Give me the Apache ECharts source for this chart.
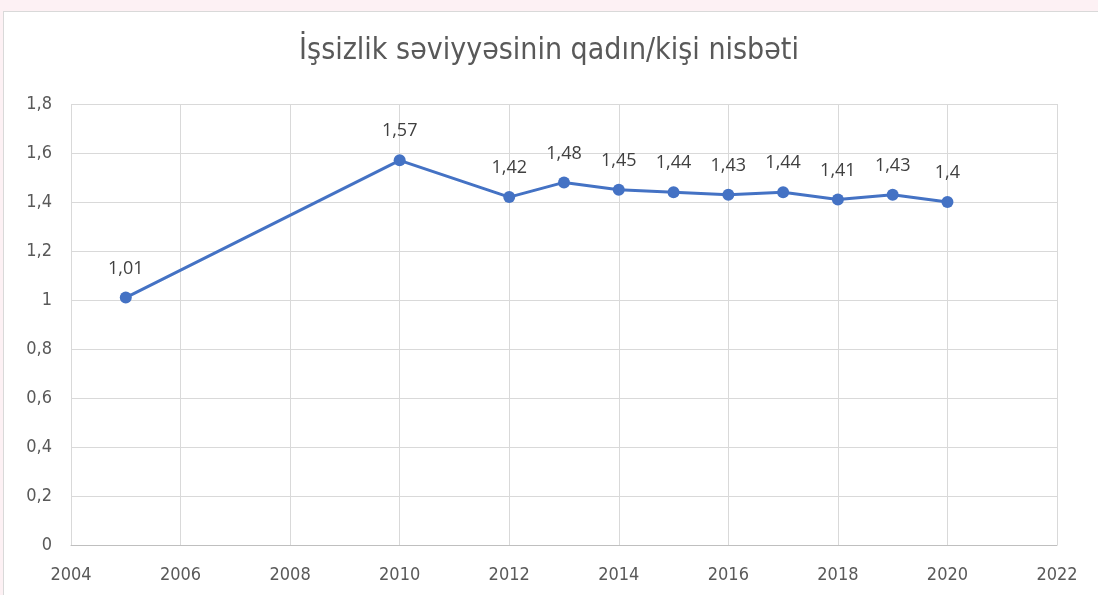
<!DOCTYPE html>
<html>
<head>
<meta charset="utf-8">
<script src="https://cdn.jsdelivr.net/npm/echarts@6/dist/echarts.min.js"></script>
<style>
  html, body { margin: 0; padding: 0; background: #fdf1f4; }
  #frame { position: absolute; left: 3px; top: 11px; width: 1100px; height: 600px;
           background: #fff; border: 1px solid #d9d9d9; box-sizing: border-box; }
  #chart { position: absolute; left: 0; top: 0; width: 1098px; height: 595px; }
</style>
</head>
<body>
<div id="frame"></div>
<div id="chart"></div>
<script>
// İşsizlik səviyyəsinin qadın/kişi nisbəti
var years = [2005, 2010, 2012, 2013, 2014, 2015, 2016, 2017, 2018, 2019, 2020]
var ratio = [1.01, 1.57, 1.42, 1.48, 1.45, 1.44, 1.43, 1.44, 1.41, 1.43, 1.4]
var chartTitle = 'İşsizlik səviyyəsinin qadın/kişi nisbəti'

var narrow = "'Liberation Sans Narrow', 'DejaVu Sans Condensed', 'Liberation Sans', sans-serif"

function comma(v) {
  return String(+v.toFixed(2)).replace('.', ',')
}

var points = []
for (var i = 0; i < years.length; i++) {
  points.push([years[i], ratio[i]])
}

var chart = echarts.init(document.getElementById('chart'))
chart.setOption({
  animation: false,
  title: {
    text: chartTitle,
    left: 'center',
    top: 31,
    textStyle: { color: '#595959', fontSize: 30, fontWeight: 'normal', fontFamily: narrow }
  },
  grid: { left: 71, right: 41, top: 104, bottom: 50 },
  xAxis: {
    type: 'value',
    min: 2004, max: 2022, interval: 2,
    axisLine: { lineStyle: { color: '#bfbfbf' } },
    axisTick: { show: false },
    splitLine: { show: true, lineStyle: { color: '#d9d9d9' } },
    axisLabel: { color: '#595959', fontSize: 18, fontFamily: narrow, margin: 21,
      formatter: function (v) { return String(v) } }
  },
  yAxis: {
    type: 'value',
    min: 0, max: 1.8, interval: 0.2,
    axisLine: { show: false },
    axisTick: { show: false },
    splitLine: { lineStyle: { color: '#d9d9d9' } },
    axisLabel: { color: '#595959', fontSize: 18, fontFamily: narrow, margin: 19,
      formatter: function (v) { return comma(v) } }
  },
  series: [{
    type: 'line',
    data: points,
    symbol: 'circle',
    symbolSize: 12,
    lineStyle: { color: '#4472c4', width: 3 },
    itemStyle: { color: '#4472c4' },
    label: {
      show: true, position: 'top', distance: 14,
      color: '#404040', fontSize: 18, fontFamily: "'Open Sans', sans-serif",
      formatter: function (p) { return comma(p.value[1]) }
    }
  }]
})
</script>
</body>
</html>
